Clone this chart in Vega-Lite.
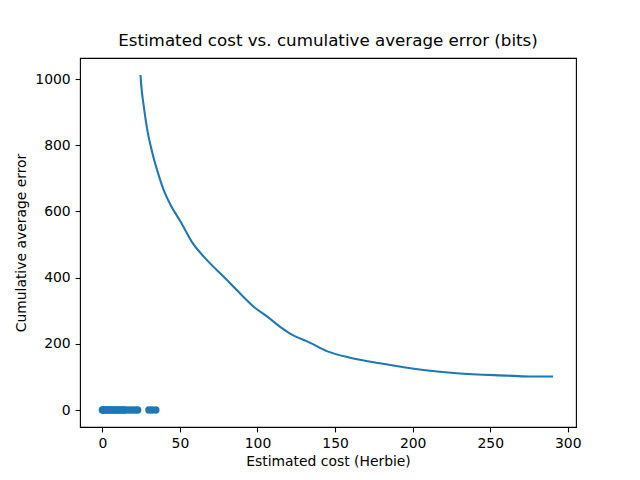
{
  "$schema": "https://vega.github.io/schema/vega-lite/v6.json",
  "width": 496,
  "height": 369,
  "autosize": {"type": "none"},
  "padding": {"left": 80, "top": 58, "right": 64, "bottom": 53},
  "background": "white",
  "config": {
    "font": "DejaVu Sans",
    "view": {"stroke": "black", "strokeWidth": 1.1},
    "axis": {
      "grid": false,
      "domain": false,
      "tickColor": "black",
      "tickWidth": 1.1,
      "tickSize": 4.9,
      "labelFont": "DejaVu Sans",
      "labelFontSize": 13.9,
      "labelColor": "black",
      "labelPadding": 4.9,
      "titleFont": "DejaVu Sans",
      "titleFontSize": 13.9,
      "titleFontWeight": "normal",
      "titleColor": "black"
    },
    "title": {"font": "DejaVu Sans", "fontSize": 16.7, "fontWeight": "normal", "color": "black", "offset": 8}
  },
  "title": "Estimated cost vs. cumulative average error (bits)",
  "datasets": {
    "curve": [
      {"cost": 24.6, "err": 1012},
      {"cost": 25.1, "err": 980},
      {"cost": 26.6, "err": 921},
      {"cost": 28.8, "err": 851},
      {"cost": 32.0, "err": 781},
      {"cost": 36.2, "err": 711},
      {"cost": 39.5, "err": 665},
      {"cost": 43.8, "err": 621},
      {"cost": 50.2, "err": 571},
      {"cost": 57.7, "err": 508},
      {"cost": 67.0, "err": 455},
      {"cost": 79.2, "err": 398},
      {"cost": 88.8, "err": 352},
      {"cost": 97.4, "err": 313},
      {"cost": 108.0, "err": 276},
      {"cost": 114.6, "err": 251},
      {"cost": 121.0, "err": 231},
      {"cost": 134.0, "err": 203},
      {"cost": 144.7, "err": 178},
      {"cost": 159.7, "err": 158},
      {"cost": 179.0, "err": 141},
      {"cost": 206.9, "err": 121},
      {"cost": 228.4, "err": 111},
      {"cost": 260.5, "err": 104},
      {"cost": 275.0, "err": 101.5},
      {"cost": 290.5, "err": 101.5}
    ],
    "points": [
      {"cost": 0, "err": 0}, {"cost": 0.5, "err": 0}, {"cost": 1, "err": 0},
      {"cost": 2, "err": 0}, {"cost": 3, "err": 0}, {"cost": 4, "err": 0},
      {"cost": 5, "err": 0}, {"cost": 6, "err": 0}, {"cost": 7, "err": 0},
      {"cost": 8, "err": 0}, {"cost": 9, "err": 0}, {"cost": 10, "err": 0},
      {"cost": 11, "err": 0}, {"cost": 12, "err": 0}, {"cost": 13, "err": 0},
      {"cost": 14, "err": 0}, {"cost": 15, "err": 0}, {"cost": 17, "err": 0},
      {"cost": 19, "err": 0}, {"cost": 21, "err": 0}, {"cost": 22.8, "err": 0},
      {"cost": 30, "err": 0}, {"cost": 32, "err": 0}, {"cost": 34.5, "err": 0}
    ]
  },
  "encoding": {
    "x": {
      "field": "cost", "type": "quantitative",
      "scale": {"domain": [-14.4, 305.3], "nice": false, "zero": false},
      "axis": {"values": [0, 50, 100, 150, 200, 250, 300], "format": "d", "title": "Estimated cost (Herbie)", "titlePadding": 4}
    },
    "y": {
      "field": "err", "type": "quantitative",
      "scale": {"domain": [-51.3, 1063.5], "nice": false, "zero": false},
      "axis": {"values": [0, 200, 400, 600, 800, 1000], "format": "d", "title": "Cumulative average error", "titlePadding": 6}
    }
  },
  "layer": [
    {
      "data": {"name": "points"},
      "mark": {"type": "circle", "size": 54, "color": "#1f77b4", "opacity": 1}
    },
    {
      "data": {"name": "curve"},
      "mark": {"type": "line", "color": "#1f77b4", "strokeWidth": 2.08, "interpolate": "monotone"}
    }
  ]
}
